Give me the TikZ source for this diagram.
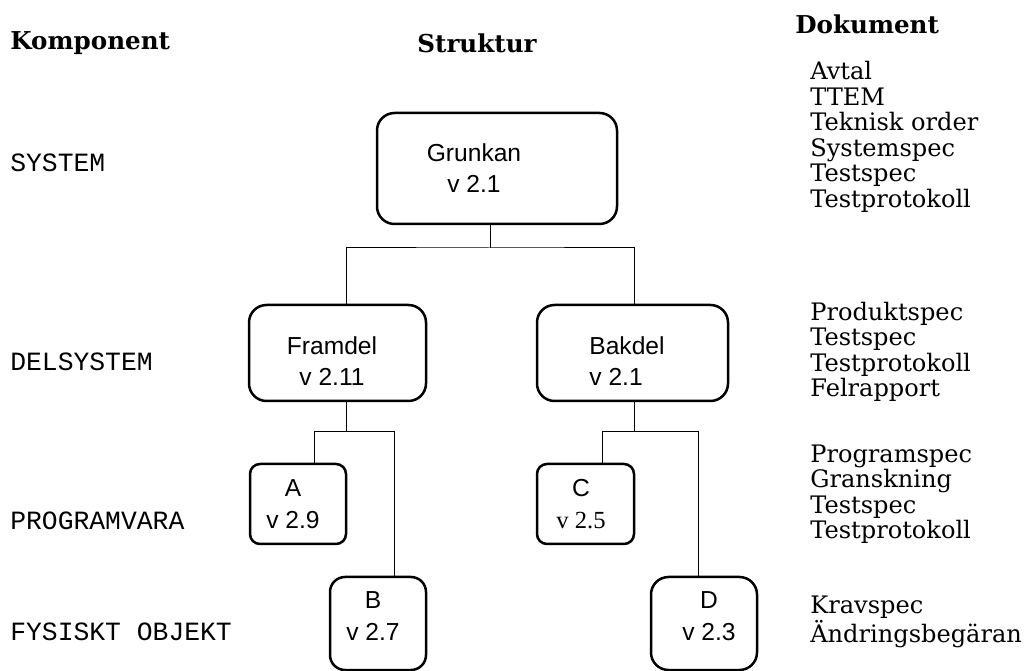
\documentclass[tikz,border=0pt]{standalone}
\usepackage{fontspec}
\setmainfont{DejaVu Serif}
\setsansfont{Liberation Sans}
\setmonofont{Liberation Mono}
\newfontfamily\timesfont{Liberation Serif}

\tikzset{
	compbox/.style={draw, line width=0.5mm, rounded corners=3.5mm, inner sep=0pt},
	boxtext/.style={font=\sffamily\fontsize{14}{18}\selectfont, align=center, inner sep=0pt},
	levellabel/.style={font=\ttfamily\fontsize{15}{18}\selectfont, anchor=west, inner sep=0pt},
	heading/.style={font=\bfseries\fontsize{14}{16}\selectfont, inner sep=0pt},
	doclist/.style={font=\fontsize{13.7}{14.5}\selectfont, align=left, anchor=west, inner sep=0pt},
	conn/.style={line width=0.2mm}
}

\begin{document}
\begin{tikzpicture}[x=0.2mm, y=-0.2mm]
	
	\useasboundingbox (0,0) rectangle (1027,671);
	
	% rubriker
	\node[heading, anchor=west] (hkomp) at (10,43) {Komponent};
	\node[heading] (hstrukt) at (477,43) {Struktur};
	\node[heading, anchor=west] (hdok) at (795,24) {Dokument};
	
	% komponentnivaer
	\node[levellabel] (lsystem) at (10,163) {SYSTEM};
	\node[levellabel] (ldelsys) at (10,362) {DELSYSTEM};
	\node[levellabel] (lprog) at (10,521) {PROGRAMVARA};
	\node[levellabel] (lfys) at (10,632) {FYSISKT OBJEKT};
	
	% rutor
	\node[compbox, minimum width=48mm, minimum height=22.2mm] (grunkan) at (497,168.5) {};
	\node[compbox, minimum width=35.4mm, minimum height=19.2mm] (framdel) at (337.5,353) {};
	\node[compbox, minimum width=38.2mm, minimum height=19.2mm] (bakdel) at (632.5,353) {};
	\node[compbox, rounded corners=2mm, minimum width=19.2mm, minimum height=16mm] (delA) at (298,504) {};
	\node[compbox, rounded corners=2mm, minimum width=19.4mm, minimum height=16mm] (delC) at (585.5,504) {};
	\node[compbox, rounded corners=3mm, minimum width=19.2mm, minimum height=18.6mm] (delB) at (378,623.5) {};
	\node[compbox, minimum width=21.2mm, minimum height=18.6mm] (delD) at (704,623.5) {};
	
	\node[boxtext] (tgrunkan) at (474,168) {Grunkan\\v 2.1};
	\node[boxtext] (tframdel) at (332,361) {Framdel\\v 2.11};
	\node[boxtext, align=left] (tbakdel) at (627,361) {Bakdel\\v 2.1};
	\node[boxtext] (tA) at (293,504) {A\\v 2.9};
	\node[boxtext] (tC) at (581,504) {C\\{\timesfont v 2.5}};
	\node[boxtext] (tB) at (373,616) {B\\v 2.7};
	\node[boxtext] (tD) at (709,616) {D\\v 2.3};
	
	% forgreningar
	\coordinate (jsys) at (490,248);
	\coordinate (jfram) at (346,432);
	\coordinate (jbak) at (634,432);
	\coordinate (ja) at (314,432);
	\coordinate (jb) at (394,432);
	\coordinate (jc) at (602,432);
	\coordinate (jd) at (698,432);
	
	\draw[conn] (grunkan.south -| jsys) -- (jsys);
	\draw[conn] (framdel.north -| jfram) |- (jsys) -| (bakdel.north -| jbak);
	
	\draw[conn] (framdel.south -| jfram) -- (jfram);
	\draw[conn] (delA.north -| ja) -- (ja) -- (jb) -- (delB.north -| jb);
	
	\draw[conn] (bakdel.south -| jbak) -- (jbak);
	\draw[conn] (delC.north -| jc) -- (jc) -- (jd) -- (delD.north -| jd);
	
	% dokument
	\node[doclist] (dsystem) at (810,137) {Avtal\\TTEM\\Teknisk order\\Systemspec\\Testspec\\Testprotokoll};
	\node[doclist] (ddelsys) at (810,352) {Produktspec\\Testspec\\Testprotokoll\\Felrapport};
	\node[doclist] (dprog) at (810,494) {Programspec\\Granskning\\Testspec\\Testprotokoll};
	\node[doclist] (dfys) at (810,622) {Kravspec\\Ändringsbegäran};
	
\end{tikzpicture}
\end{document}
